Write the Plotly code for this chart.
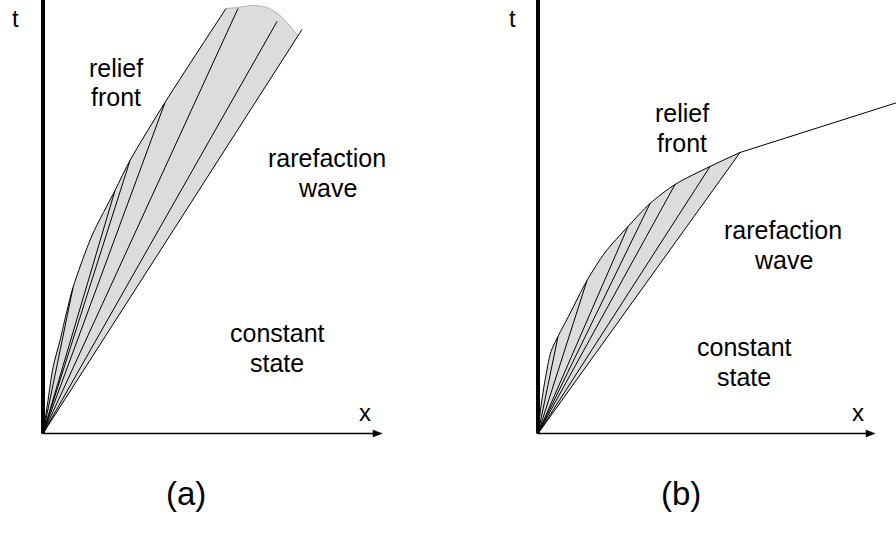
import plotly.graph_objects as go
from plotly.subplots import make_subplots

# ---------------- panel (a): front bending toward the t-axis ----------------
a_front_x = [0, 5, 10, 17, 24, 30, 49, 72, 87, 122, 183]
a_front_t = [0, 33, 66, 93, 123, 146, 198, 243, 273, 331, 425]
# end points of the straight characteristics issued from the origin
a_char_x = [30, 72, 87, 122, 195, 234, 259]
a_char_t = [146, 243, 273, 331, 425, 412, 404]
# upper cap closing the shaded fan
a_cap_x = [183, 195, 210, 224, 237, 255]
a_cap_t = [425, 426, 428, 426, 418, 398]

# ---------------- panel (b): front that turns into a straight path ----------
b_front_x = [0, 2, 7, 13, 20, 32, 49, 67, 90, 112, 137, 172, 202]
b_front_t = [0, 20, 53, 82, 97, 120, 153, 181, 207, 230, 249, 267, 281]
b_char_x = [20, 49, 90, 112, 137, 172, 202]
b_char_t = [97, 153, 207, 230, 249, 267, 281]
b_path_x = [202, 375]
b_path_t = [281, 336]

region_lines = ["relief", "front", "rarefaction", "wave", "constant", "state"]
panel_labels = ["(a)", "(b)"]

T_TOP = 433.5
T_BOTTOM = T_TOP - 533
X_AXIS_END = [339, 337]

FONT = "Liberation Sans, Arial, sans-serif"
FILL = "#dcdcdc"
SMOOTH = 0.8

fig = make_subplots(rows=1, cols=2, horizontal_spacing=0)


def fan_segments(xs, ts):
    sx, st = [], []
    for x, t in zip(xs, ts):
        sx += [0, x, None]
        st += [0, t, None]
    return sx, st


def add_panel(col, front_x, front_t, char_x, char_t, cap_x, cap_t, x_end):
    # shaded fan: straight tail of the fan first, then the smooth front (and
    # cap) filled back to it
    edge_x = cap_x[-1] if cap_x else front_x[-1]
    edge_t = cap_t[-1] if cap_t else front_t[-1]
    fig.add_trace(go.Scatter(x=[0, edge_x], y=[0, edge_t], mode="lines",
                             line=dict(width=0), hoverinfo="skip",
                             showlegend=False), row=1, col=col)
    px = list(front_x)
    pt = list(front_t)
    if cap_x:
        px += [front_x[-1]] + cap_x
        pt += [front_t[-1]] + cap_t
    fig.add_trace(go.Scatter(x=px, y=pt, mode="lines", fill="tonext",
                             fillcolor=FILL,
                             line=dict(width=0, shape="spline", smoothing=SMOOTH,
                                       simplify=False),
                             hoverinfo="skip", showlegend=False), row=1, col=col)
    if cap_x:
        fig.add_trace(go.Scatter(x=cap_x, y=cap_t, mode="lines",
                                 line=dict(color="#b4b4b4", width=1,
                                           shape="spline", smoothing=SMOOTH),
                                 hoverinfo="skip", showlegend=False), row=1, col=col)
    # characteristics
    sx, st = fan_segments(char_x, char_t)
    fig.add_trace(go.Scatter(x=sx, y=st, mode="lines",
                             line=dict(color="black", width=1),
                             hoverinfo="skip", showlegend=False), row=1, col=col)
    # front
    fig.add_trace(go.Scatter(x=front_x, y=front_t, mode="lines",
                             line=dict(color="black", width=1,
                                       shape="spline", smoothing=SMOOTH),
                             hoverinfo="skip", showlegend=False), row=1, col=col)
    # x axis with arrow head
    fig.add_trace(go.Scatter(x=[0, x_end - 8], y=[0, 0], mode="lines",
                             line=dict(color="black", width=1.5),
                             hoverinfo="skip", showlegend=False), row=1, col=col)
    fig.add_trace(go.Scatter(x=[x_end - 9, x_end, x_end - 9, x_end - 9],
                             y=[3.5, 0, -3.5, 3.5], mode="lines", fill="toself",
                             fillcolor="black", line=dict(color="black", width=0.5),
                             hoverinfo="skip", showlegend=False), row=1, col=col)
    # t axis
    fig.add_trace(go.Scatter(x=[0, 0], y=[0, T_TOP + 5], mode="lines",
                             line=dict(color="black", width=4),
                             hoverinfo="skip", showlegend=False), row=1, col=col)


add_panel(1, a_front_x, a_front_t, a_char_x, a_char_t, a_cap_x, a_cap_t, X_AXIS_END[0])
add_panel(2, b_front_x, b_front_t, b_char_x, b_char_t, [], [], X_AXIS_END[1])

fig.add_trace(go.Scatter(x=b_path_x, y=b_path_t, mode="lines",
                         line=dict(color="black", width=1),
                         hoverinfo="skip", showlegend=False), row=1, col=2)

# region labels, one annotation per text line
label_pos = {
    "x": [(73, 365.5), (73, 336.5), (284, 275.5), (284, 245.5), (234, 100.5), (234, 70.5)],
    "x2": [(144, 320.5), (144, 290.5), (245, 203.5), (245, 173.5), (206, 86.5), (206, 56.5)],
}
for ref, pos in label_pos.items():
    yref = "y" if ref == "x" else "y2"
    for text, (lx, lt) in zip(region_lines, pos):
        fig.add_annotation(x=lx, y=lt, xref=ref, yref=yref, text=text,
                           showarrow=False, align="center",
                           font=dict(family=FONT, size=25, color="black"))

axis_label_pos = {"x": (-28, 415, 322, 21), "x2": (-26, 415, 320, 21)}
for ref, (tx, tt, xx, xt) in axis_label_pos.items():
    yref = "y" if ref == "x" else "y2"
    fig.add_annotation(x=tx, y=tt, xref=ref, yref=yref, text="t", showarrow=False,
                       font=dict(family=FONT, size=24, color="black"))
    fig.add_annotation(x=xx, y=xt, xref=ref, yref=yref, text="x", showarrow=False,
                       font=dict(family=FONT, size=24, color="black"))

for ref, text in zip(["x", "x2"], panel_labels):
    yref = "y" if ref == "x" else "y2"
    fig.add_annotation(x=143, y=-59.5, xref=ref, yref=yref, text=text, showarrow=False,
                       font=dict(family=FONT, size=33, color="black"))

axis_style = dict(visible=False, showgrid=False, zeroline=False, fixedrange=True)
fig.update_xaxes(axis_style)
fig.update_yaxes(axis_style)
fig.update_xaxes(range=[-43, 405], domain=[0, 0.5], row=1, col=1)
fig.update_xaxes(range=[-90, 358], domain=[0.5, 1], row=1, col=2)
fig.update_yaxes(range=[T_BOTTOM, T_TOP], domain=[0, 1])

fig.update_layout(width=896, height=533, autosize=False,
                  margin=dict(l=0, r=0, t=0, b=0),
                  paper_bgcolor="white", plot_bgcolor="white",
                  showlegend=False)

fig.write_html("out.html")
